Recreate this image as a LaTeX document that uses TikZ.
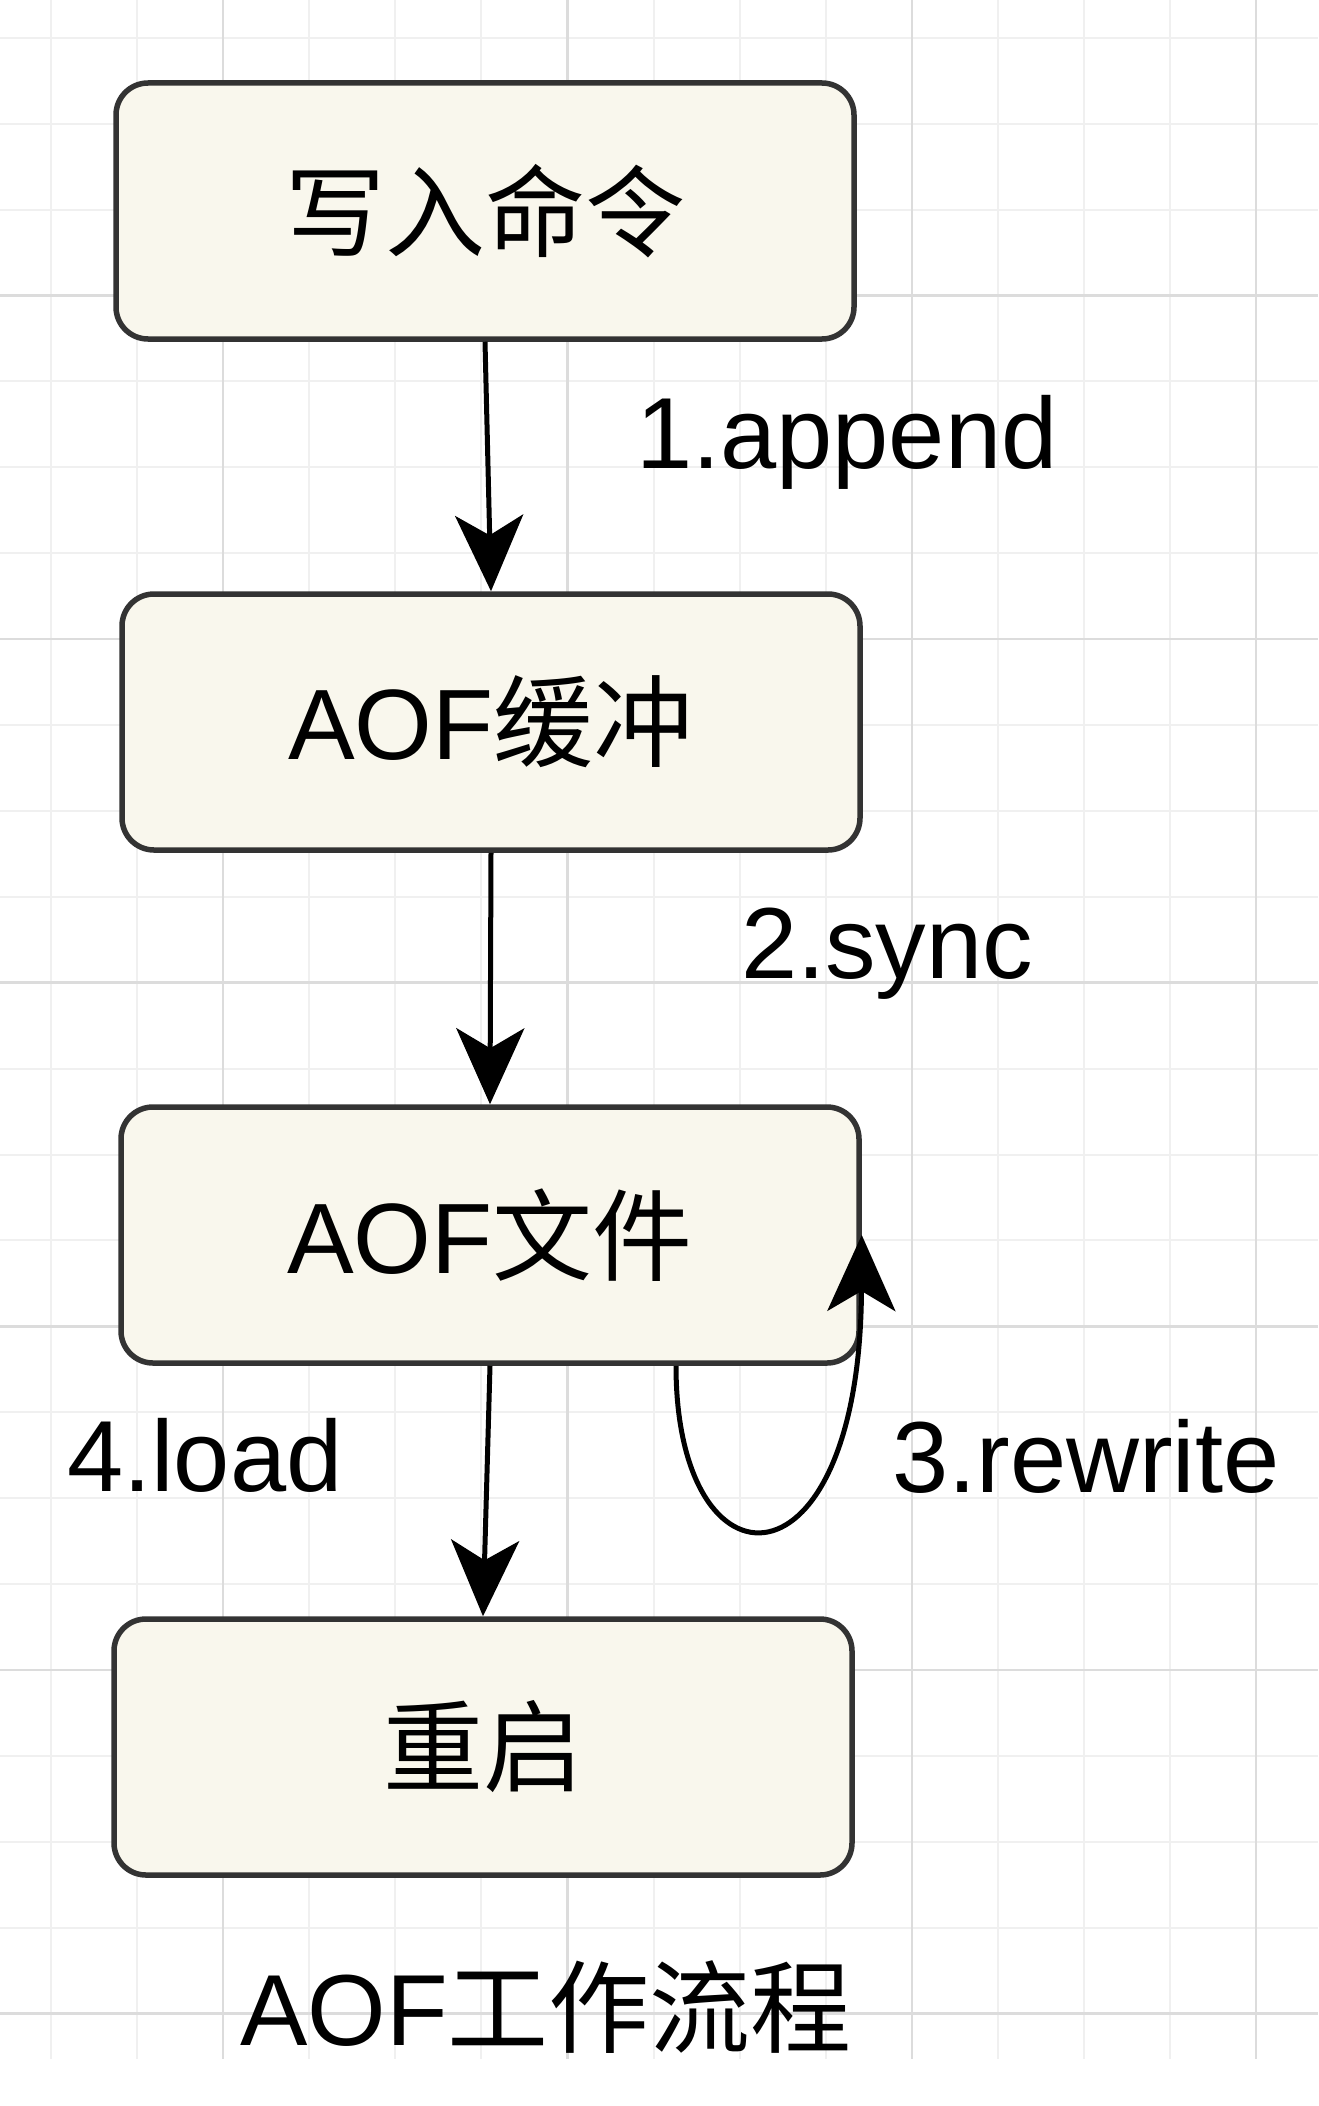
\documentclass[tikz,border=0pt]{standalone}
\usepackage{fontspec}
\setmainfont{Liberation Sans}
\newfontfamily\cjk{Noto Sans CJK SC}
\usetikzlibrary{arrows.meta,calc}
\definecolor{boxfill}{HTML}{F9F7ED}
\definecolor{boxline}{HTML}{333333}
\definecolor{gridminor}{HTML}{F0F0F0}
\definecolor{gridmajor}{HTML}{DCDCDC}
\tikzset{
  stepbox/.style={draw=boxline, fill=boxfill, line width=5.5pt, rounded corners=32pt,
    minimum width=738pt, minimum height=256pt, inner sep=0pt,
    font=\fontsize{100}{120}\selectfont},
  conn/.style={draw=black, line width=5pt,
    -{Stealth[length=76pt,width=68pt,inset=20pt]}},
  lbl/.style={inner sep=0pt, anchor=base west, font=\fontsize{101}{120}\selectfont},
  gminor/.style={draw=gridminor, line width=2pt},
  gmajor/.style={draw=gridmajor, line width=2.5pt}
}
\begin{document}
\begin{tikzpicture}[x=1pt,y=-1pt]
\useasboundingbox (0,0) rectangle (1318,2106);
\fill[white] (0,0) rectangle (1318,2106);
% grid
\begin{scope}
\clip (0,0) rectangle (1318,2059);
\foreach \i in {-2,...,12} {
  \pgfmathsetmacro\xx{223+86.1*\i}
  \draw[gminor] (\xx,0) -- (\xx,2059);
}
\foreach \j in {-3,...,20} {
  \pgfmathsetmacro\yy{295.5+85.9*\j}
  \draw[gminor] (0,\yy) -- (1318,\yy);
}
\foreach \i in {0,4,8,12} {
  \pgfmathsetmacro\xx{223+86.1*\i}
  \draw[gmajor] (\xx,0) -- (\xx,2059);
}
\foreach \j in {-4,0,4,8,12,16,20} {
  \pgfmathsetmacro\yy{295.5+85.9*\j}
  \draw[gmajor] (0,\yy) -- (1318,\yy);
}
\end{scope}
% boxes
\node[stepbox] (b1) at (485,211) {\cjk 写入命令};
\node[stepbox] (b2) at (491,722) {AOF{\cjk 缓冲}};
\node[stepbox] (b3) at (490,1235) {AOF{\cjk 文件}};
\node[stepbox] (b4) at (483,1747) {\cjk 重启};
% connectors
\draw[conn] (b1.south) -- (b2.north);
\draw[conn] (b2.south) -- (b3.north);
\draw[conn] (b3.south) -- (b4.north);
\coordinate (l0) at ($(b3.south)+(186,0)$);
\draw[conn] (l0) .. controls (676,1600) and (860,1600) .. (b3.east);
% labels
\node[lbl] (t1) at (636,468) {1.append};
\node[lbl] (t2) at (741,978) {2.sync};
\node[lbl] (t3) at (892,1492) {3.rewrite};
\node[lbl] (t4) at (67,1491) {4.load};
\begin{scope}
\clip (0,0) rectangle (1318,2059);
\node[lbl] (cap) at (240,2045) {AOF{\cjk 工作流程}};
\end{scope}
\end{tikzpicture}
\end{document}
